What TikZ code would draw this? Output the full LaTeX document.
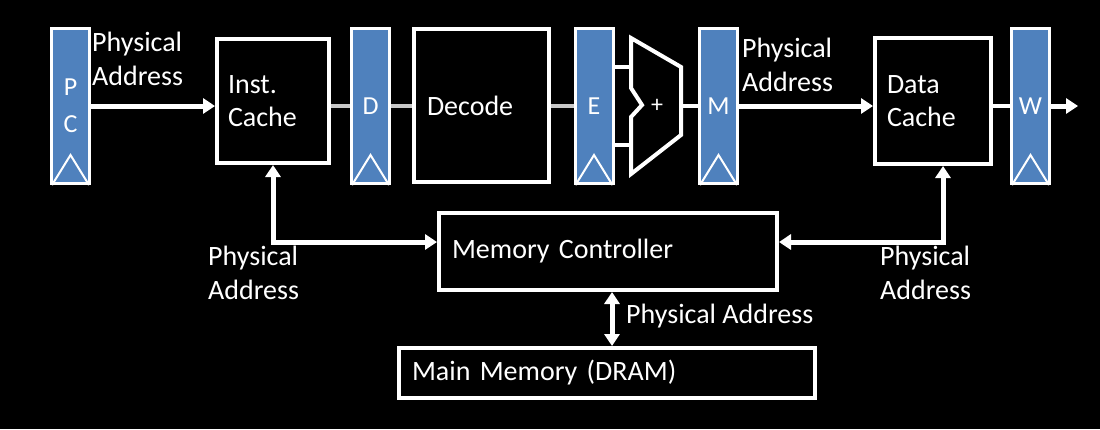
\documentclass[tikz,border=0pt]{standalone}
\usepackage{fontspec}
\setmainfont{Carlito}
\usetikzlibrary{calc, arrows.meta}
\definecolor{regblue}{RGB}{79,129,189}
\definecolor{linegray}{RGB}{200,200,200}

\begin{document}
\begin{tikzpicture}[x=1pt, y=-1pt,
		reg/.style={draw=white, fill=regblue, line width=3pt, minimum width=38pt, minimum height=155pt, inner sep=0pt, text=white, align=center, font=\fontsize{26}{37}\selectfont},
		box/.style={draw=white, fill=black, line width=4pt, inner ysep=0pt, text=white, align=left, font=\fontsize{28}{33}\selectfont},
		lbl/.style={anchor=west, inner sep=0pt, text=white, align=left, font=\fontsize{28}{34}\selectfont},
		clock/.style={draw=white, line width=2pt},
		wire/.style={draw=linegray, line width=4pt},
		bus/.style={draw=white, line width=4pt},
		arr/.style={draw=white, line width=5pt, -{Triangle[length=12pt, width=15pt]}},
		biarr/.style={draw=white, line width=5pt, {Triangle[length=12pt, width=15pt]}-{Triangle[length=12pt, width=15pt]}}]
		
		\fill[black] (0,0) rectangle (1100,429);
		\useasboundingbox (0,0) rectangle (1100,429);
		
		% pipeline registers
		\node[reg] (pc) at (70.5,106)  {P\\C};
		\node[reg] (d)  at (370.5,106) {D};
		\node[reg] (e)  at (594,106)   {E};
		\node[reg] (m)  at (718.5,106) {M};
		\node[reg] (w)  at (1030.5,106) {W};
		\foreach \r in {pc,d,e,m,w}
			\draw[clock] ($(\r.south west)+(2,0)$) -- ($(\r.south)+(0,-30)$) -- ($(\r.south east)+(-2,0)$);
		
		% stages
		\node[box, minimum width=112pt, minimum height=124pt, inner xsep=11pt, text width=90pt]  (ic)  at (273,101)   {Inst.\\Cache};
		\node[box, minimum width=135pt, minimum height=153pt, inner xsep=13pt, text width=109pt] (dec) at (481.5,105.5) {Decode};
		\node[box, minimum width=116pt, minimum height=126pt, inner xsep=12pt, text width=92pt]  (dc)  at (933,101)   {Data\\Cache};
		\node[box, minimum width=338pt, minimum height=77pt, inner xsep=13pt, text width=312pt]  (mc)  at (608,251.5) {Memory Controller};
		\node[box, minimum width=416pt, minimum height=50pt, inner xsep=13pt, text width=390pt]  (mm)  at (607,373)   {Main Memory (DRAM)};
		
		% adder
		\draw[bus, line join=miter] (631,38) -- (681,67) -- (681,135) -- (631,174) -- (631,117) -- (642,105) -- (631,88) -- cycle;
		\node[text=white, font=\fontsize{24}{28}\selectfont] (plus) at (657,106) {+};
		\coordinate (alu in1) at (631,67);
		\coordinate (alu in2) at (631,145);
		\coordinate (alu out) at (681,106);
		\coordinate (w out)   at (1078,106);
		
		% labels
		\node[lbl] (pa pc)    at (92,58.5)   {Physical\\Address};
		\node[lbl] (pa m)     at (742,64.5)  {Physical\\Address};
		\node[lbl] (pa left)  at (208,272.5) {Physical\\Address};
		\node[lbl] (pa right) at (880,272.5) {Physical\\Address};
		\node[lbl] (pa mem)   at (626,316)   {Physical Address};
		
		\draw[wire] (ic.east |- d) -- (d.west);
		\draw[wire] (d.east) -- (dec.west |- d);
		\draw[wire] (dec.east |- e) -- (e.west);
		\draw[bus] (e.east |- alu in1) -- (alu in1);
		\draw[bus] (e.east |- alu in2) -- (alu in2);
		\draw[bus] (alu out) -- (m.west);
		\draw[bus] (dc.east |- w) -- (w.west);
		
		\draw[arr] (pc.east) -- (ic.west |- pc);
		\draw[arr] (m.east) -- (dc.west |- m);
		\draw[arr] (w.east) -- (w out);
		
		\draw[biarr] (ic.south) |- ($(mc.west)+(0,-9.5)$);
		\draw[biarr] ($(dc.south)+(10,0)$) |- ($(mc.east)+(0,-9.5)$);
		\draw[biarr] ($(mc.south)+(4,0)$) -- ($(mm.north)+(5,0)$);
	\end{tikzpicture}
\end{document}
